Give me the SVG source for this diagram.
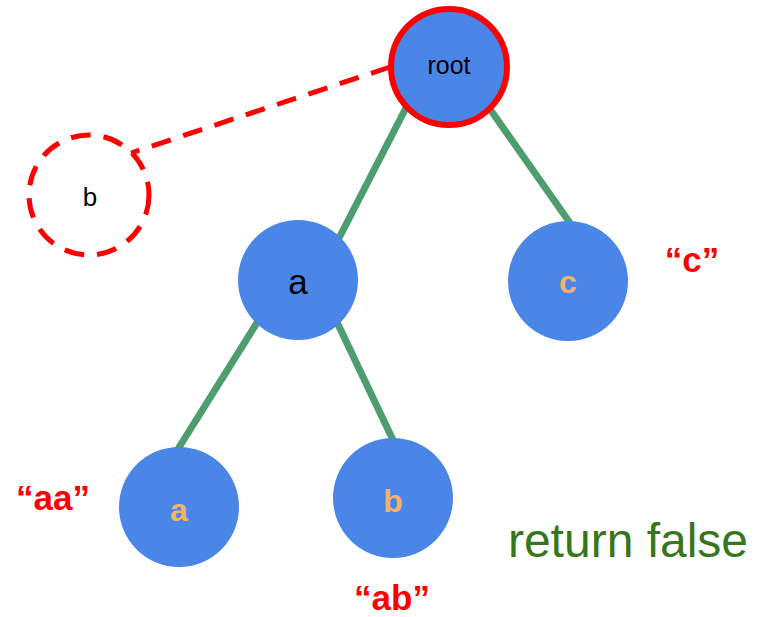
<svg xmlns="http://www.w3.org/2000/svg" width="769" height="617" viewBox="0 0 769 617">
<style>
.node{fill:#4a86e8}
.edge{stroke:#4e9d6f;stroke-width:7;fill:none}
.dash{stroke:#ff0000;stroke-width:5;fill:none;stroke-dasharray:20 13}
.t{font-family:"Liberation Sans",Arial,sans-serif;text-anchor:middle}
.lbl{font-family:"Liberation Sans",Arial,sans-serif;text-anchor:middle;font-weight:bold;fill:#ff0000;font-size:35px}
.key{font-family:"Liberation Sans",Arial,sans-serif;text-anchor:middle;font-weight:bold;fill:#f6b26b;font-size:32px}
</style>
<rect width="769" height="617" fill="#ffffff"/>
<g id="connectors">
<line class="edge" x1="410" y1="100" x2="338" y2="240"/>
<line class="edge" x1="485" y1="102" x2="570" y2="223"/>
<line class="edge" x1="260" y1="318" x2="178" y2="449"/>
<line class="edge" x1="335" y1="318" x2="393" y2="440"/>
<line class="dash" x1="390" y1="67" x2="131" y2="153"/>
</g>
<g id="root">
<circle cx="449" cy="67" r="58" fill="#4a86e8" stroke="#ff0000" stroke-width="6"/>
<text class="t" x="449" y="74" font-size="25" fill="#000">root</text>
</g>
<g id="ghost-b">
<circle class="dash" cx="89" cy="195" r="60"/>
<text class="t" x="90" y="206" font-size="26" fill="#000">b</text>
</g>
<g id="node-a">
<circle class="node" cx="298" cy="280" r="60"/>
<text class="t" x="298" y="294" font-size="35" fill="#000">a</text>
</g>
<g id="node-c">
<circle class="node" cx="568" cy="281" r="60"/>
<text class="key" x="568" y="293">c</text>
</g>
<g id="node-aa">
<circle class="node" cx="179" cy="507" r="60"/>
<text class="key" x="179" y="521">a</text>
</g>
<g id="node-ab">
<circle class="node" cx="393" cy="498" r="60"/>
<text class="key" x="393" y="512">b</text>
</g>
<text class="lbl" x="692" y="272" font-size="36">“c”</text>
<text class="lbl" x="53" y="510">“aa”</text>
<text class="lbl" x="392" y="610">“ab”</text>
<text x="628" y="557" font-family="&quot;Liberation Sans&quot;,Arial,sans-serif" font-size="48" fill="#38761d" text-anchor="middle">return false</text>
</svg>
